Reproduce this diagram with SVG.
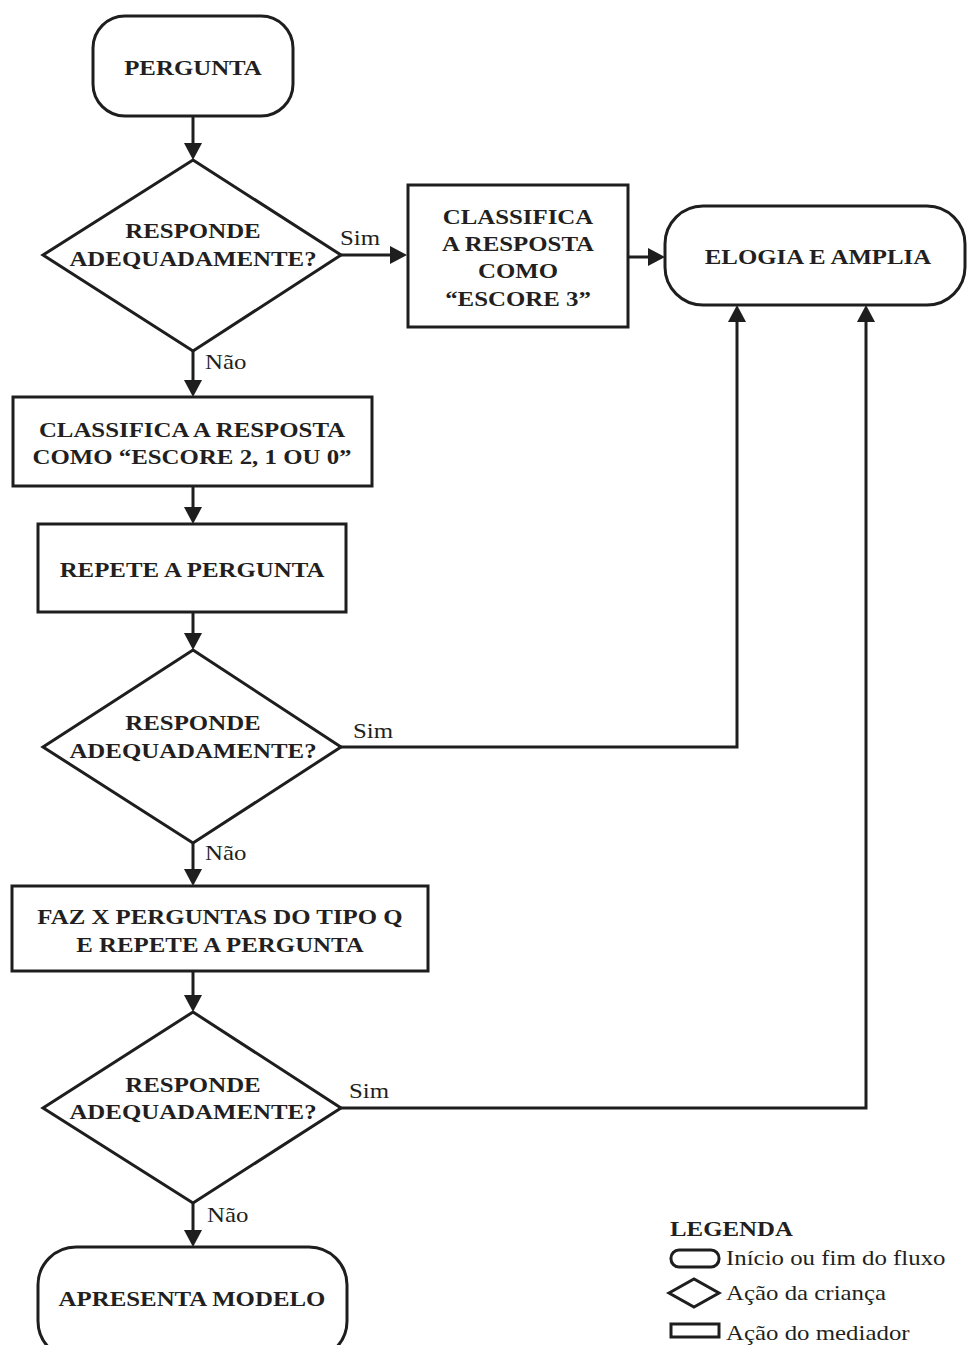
<svg xmlns="http://www.w3.org/2000/svg" width="967" height="1345" viewBox="0 0 967 1345">
<style>
.shape { fill: #ffffff; stroke: #1e1e1e; stroke-width: 3; }
.conn { fill: none; stroke: #1e1e1e; stroke-width: 3; marker-end: url(#arrow); }
.t { font-family: "Liberation Serif", "Times New Roman", serif; font-size: 22px; font-weight: bold; text-anchor: middle; fill: #231f20; transform-box: fill-box; transform-origin: center; transform: scaleX(1.13); }
.l { font-family: "Liberation Serif", "Times New Roman", serif; font-size: 22px; fill: #231f20; transform-box: fill-box; transform-origin: left center; transform: scaleX(1.13); }
.lb { font-weight: bold; }
</style>
<defs>
<marker id="arrow" viewBox="0 0 17 18" refX="13" refY="9" markerWidth="17" markerHeight="18" markerUnits="userSpaceOnUse" orient="auto">
<path d="M0,0 L17,9 L0,18 z" fill="#1e1e1e"/>
</marker>
</defs>
<rect width="967" height="1345" fill="#ffffff"/>

<g id="connectors">
<path class="conn" d="M193,116 V156"/>
<path class="conn" d="M341,255 H403"/>
<path class="conn" d="M628,257 H661"/>
<path class="conn" d="M193,351 V393"/>
<path class="conn" d="M193,486 V520"/>
<path class="conn" d="M193,612 V646"/>
<path class="conn" d="M193,843 V882"/>
<path class="conn" d="M193,971 V1008"/>
<path class="conn" d="M193,1203 V1243"/>
<path class="conn" d="M341,747 H737 V309"/>
<path class="conn" d="M341,1108 H866 V309"/>
<text class="l" x="340" y="245">Sim</text>
<text class="l" x="205" y="369">Não</text>
<text class="l" x="353" y="738">Sim</text>
<text class="l" x="205" y="860">Não</text>
<text class="l" x="349" y="1098">Sim</text>
<text class="l" x="207" y="1222">Não</text>
</g>

<g id="pergunta">
<rect class="shape" x="93" y="16" width="200" height="100" rx="32"/>
<text class="t" x="193" y="75">PERGUNTA</text>
</g>

<g id="decisao1">
<polygon class="shape" points="193,160 341,255 193,351 43,255"/>
<text class="t" x="193" y="238">RESPONDE</text>
<text class="t" x="193" y="266">ADEQUADAMENTE?</text>
</g>

<g id="classifica3">
<rect class="shape" x="408" y="185" width="220" height="142"/>
<text class="t" x="518" y="224">CLASSIFICA</text>
<text class="t" x="518" y="251">A RESPOSTA</text>
<text class="t" x="518" y="278">COMO</text>
<text class="t" x="518" y="306">“ESCORE 3”</text>
</g>

<g id="elogia">
<rect class="shape" x="665" y="206" width="300" height="99" rx="38"/>
<text class="t" x="818" y="264">ELOGIA E AMPLIA</text>
</g>

<g id="classifica210">
<rect class="shape" x="13" y="397" width="359" height="89"/>
<text class="t" x="192" y="437">CLASSIFICA A RESPOSTA</text>
<text class="t" x="192" y="464">COMO “ESCORE 2, 1 OU 0”</text>
</g>

<g id="repete">
<rect class="shape" x="38" y="524" width="308" height="88"/>
<text class="t" x="192" y="577">REPETE A PERGUNTA</text>
</g>

<g id="decisao2">
<polygon class="shape" points="193,650 341,747 193,843 43,747"/>
<text class="t" x="193" y="730">RESPONDE</text>
<text class="t" x="193" y="758">ADEQUADAMENTE?</text>
</g>

<g id="fazx">
<rect class="shape" x="12" y="886" width="416" height="85"/>
<text class="t" x="220" y="924">FAZ X PERGUNTAS DO TIPO Q</text>
<text class="t" x="220" y="952">E REPETE A PERGUNTA</text>
</g>

<g id="decisao3">
<polygon class="shape" points="193,1012 341,1108 193,1203 43,1108"/>
<text class="t" x="193" y="1092">RESPONDE</text>
<text class="t" x="193" y="1119">ADEQUADAMENTE?</text>
</g>

<g id="apresenta">
<rect class="shape" x="38" y="1247" width="309" height="112" rx="38"/>
<text class="t" x="192" y="1306">APRESENTA MODELO</text>
</g>

<g id="legenda">
<text class="l lb" x="670" y="1236">LEGENDA</text>
<rect class="shape" x="671" y="1250" width="48" height="17" rx="8"/>
<text class="l" x="726" y="1265">Início ou fim do fluxo</text>
<polygon class="shape" points="669,1293 694,1279 719,1293 694,1307"/>
<text class="l" x="726" y="1300">Ação da criança</text>
<rect class="shape" x="671" y="1324" width="48" height="13"/>
<text class="l" x="726" y="1340">Ação do mediador</text>
</g>
</svg>
